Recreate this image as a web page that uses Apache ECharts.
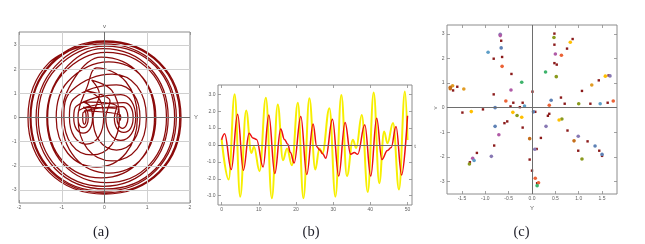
<!DOCTYPE html>
<html><head><meta charset="utf-8">
<script src="https://cdn.jsdelivr.net/npm/echarts@6/dist/echarts.min.js"></script>
<style>html,body{margin:0;padding:0;background:#fff}#c{width:645px;height:244px}</style>
</head><body><div id="c"></div><script>
// ---------- Panel (a): phase portrait (Y, v) ----------
const phaseY = [
 .36,.37,.38,.37,.36,.35,.34,.35,
 -.47,-.44,-.43,-.44,-.47,-.50,-.51,-.50,
 .42,.51,.55,.51,.42,.33,.29,.33,
 -.50,-.41,-.38,-.41,-.50,-.59,-.62,-.59,
 .45,.61,.67,.61,.45,.29,.23,.29,
 -.50,-.34,-.28,-.34,-.50,-.66,-.72,-.66,
 .38,.63,.73,.63,.38,.13,.03,.13,
 -.42,-.13,-.02,-.13,-.42,-.71,-.82,-.71,
 .28,.68,.83,.68,.28,-.12,-.27,-.12,
 -.30,.17,.35,.17,-.30,-.77,-.95,-.77,
 .18,.76,.98,.76,.18,-.40,-.62,-.40,
 -.18,.50,.77,.50,-.18,-.86,-1.13,-.86,
 .10,.89,1.20,.89,.10,-.69,-1.00,-.69,
 -.08,.82,1.17,.82,-.08,-.98,-1.33,-.98,
 .05,1.06,1.45,1.06,.05,-.96,-1.35,-.96,
 -.03,1.06,1.49,1.06,-.03,-1.12,-1.55,-1.12,
 .02,1.19,1.64,1.19,.02,-1.15,-1.60,-1.15,
 -.02,1.20,1.68,1.20,-.02,-1.24,-1.72,-1.24,
 .01,1.27,1.76,1.27,.01,-1.25,-1.74,-1.25,
 0,1.29,1.79,1.29,0,-1.29,-1.79,-1.29,0
];
const phaseV = [
 .13,.09,0,-.09,-.13,-.09,0,.09,
 .28,.20,0,-.20,-.28,-.20,0,.20,
 .45,.32,0,-.32,-.45,-.32,0,.32,
 .42,.30,0,-.30,-.42,-.30,0,.30,
 .62,.45,0,-.45,-.62,-.45,0,.45,
 .65,.47,0,-.47,-.65,-.47,0,.47,
 .95,.68,0,-.68,-.95,-.68,0,.68,
 1.10,.79,0,-.79,-1.10,-.79,0,.79,
 1.35,.97,0,-.97,-1.35,-.97,0,.97,
 1.55,1.12,0,-1.12,-1.55,-1.12,0,1.12,
 1.80,1.30,0,-1.30,-1.80,-1.30,0,1.30,
 2.05,1.48,0,-1.48,-2.05,-1.48,0,1.48,
 2.30,1.66,0,-1.66,-2.30,-1.66,0,1.66,
 2.50,1.80,0,-1.80,-2.50,-1.80,0,1.80,
 2.70,1.94,0,-1.94,-2.70,-1.94,0,1.94,
 2.85,2.05,0,-2.05,-2.85,-2.05,0,2.05,
 2.96,2.13,0,-2.13,-2.96,-2.13,0,2.13,
 3.05,2.20,0,-2.20,-3.05,-2.20,0,2.20,
 3.12,2.25,0,-2.25,-3.12,-2.25,0,2.25,
 3.17,2.28,0,-2.28,-3.17,-2.28,0,2.28,3.17
];
const aTicksX = [-2,-1,0,1,2];
const aTicksY = [-3,-2,-1,0,1,2,3];
const aGridX = [-1,1];
const aGridY = [-3,-2,-1,1,2,3];

// ---------- Panel (b): time series ----------
const redT = [0,0.8,2.6,4.3,5.85,7.4,8.4,9.4,11.15,12.7,14.3,15.9,16.9,17.8,18.5,19.5,21.3,22.9,24.6,25.6,26.4,27.2,28.0,29.8,31.5,33.2,34.7,35.7,36.6,38.5,40.1,41.7,43.1,44.6,45.6,46.9,48.4,50.0];
const redY = [0.31,0.67,-1.45,1.82,-1.5,0.7,0.42,0.33,-1.3,1.78,-1.69,0.94,0.33,0.05,-0.45,-1.06,1.69,-1.75,1.24,-0.1,-0.3,-0.52,-0.78,1.53,-1.84,1.33,-0.55,-0.45,-0.55,1.2,-1.84,1.59,-0.86,-0.33,-0.15,1.1,-1.78,1.73];
const yelT = [0,1.9,3.5,5.0,6.6,8.0,8.7,10.2,11.9,13.5,15.1,16.5,17.6,18.9,20.5,22.0,23.6,25.2,26.3,27.1,29.0,30.6,32.2,33.7,35.3,36.2,37.7,39.3,40.9,42.4,43.7,44.6,46.1,47.7,49.3,50.0];
const yelV = [0.35,-2.04,3.0,-3.06,2.04,-0.47,-0.1,-1.55,2.8,-3.15,2.4,-0.9,-0.2,-1.2,2.5,-3.15,2.76,-1.45,-0.2,-0.5,2.18,-3.06,2.96,-1.84,0.31,-0.18,1.78,-2.78,3.1,-2.27,0.8,0.1,1.3,-2.63,3.16,0.3];
const bTicksX = [0,10,20,30,40,50];
const bTicksY = [-3,-2,-1,0,1,2,3];

// ---------- Panel (c): scatter of sampled states ----------
const cDarkRed = [[-0.66,2.72],[-0.82,1.99],[-0.64,2.06],[-0.44,1.37],[-0.82,0.54],[-0.4,0.2],[-0.2,0.2],[0.01,0.65],[-0.46,0.05],[-0.26,0.02],[-1.6,0.85],[-1.69,0.7],[-1.49,-0.2],[-1.05,-0.07],[-0.53,-0.56],[-0.59,-0.63],[-0.2,-0.81],[-0.81,-1.54],[-1.18,-1.84],[-1.33,-2.22],[-0.05,-2.11],[0.0,-2.56],[0.11,-3.07],[0.1,-1.68],[0.07,-0.17],[0.34,-0.33],[0.37,-0.25],[0.19,-1.23],[0.76,-0.93],[0.99,-1.75],[1.19,-1.37],[1.44,-1.75],[1.5,-1.96],[0.48,3.01],[0.48,2.56],[0.48,1.81],[0.53,1.75],[0.87,2.79],[0.75,2.4],[1.07,0.68],[1.43,1.11],[1.64,1.31],[0.62,0.41],[0.7,0.16],[1.25,0.16],[1.62,0.2]];
const cPurple = [[-0.68,2.98],[0.3,-0.76],[0.99,-1.16],[-0.87,-1.98],[0.06,-1.69],[1.67,1.29]];
const cPink = [[-0.68,2.93],[-0.45,0.72],[0.5,2.18],[-1.27,-2.06],[-0.71,-1.1]];
const cBlue = [[-0.66,2.43],[0.41,0.3],[1.35,-1.56],[1.5,-1.9],[-0.79,0.0],[0.03,-0.17],[-0.79,-0.76]];
const cLightBlue = [[-0.94,2.25],[-0.16,0.07],[1.46,0.16],[-1.24,-2.15]];
const cRedOrange = [[-0.64,1.68],[-0.56,0.27],[0.63,2.13],[0.37,0.1],[1.74,0.27],[0.07,-2.87],[0.14,-3.05]];
const cGreen = [[-0.22,1.03],[0.29,1.45],[0.11,-3.17]];
const cOlive = [[0.47,2.85],[0.52,1.26],[1.0,0.16],[-0.32,-0.32],[0.64,-0.46],[1.07,-2.09],[-1.34,-2.29]];
const cYellow = [[0.82,2.66],[1.57,1.28],[-1.3,-0.16],[-0.41,-0.19],[-0.22,-0.39],[0.58,-0.5]];
const cOrange = [[1.28,0.92],[-1.7,0.89],[-1.46,0.76]];
const cBrown = [[-1.75,0.83],[-1.75,0.77],[-0.05,-1.26],[0.9,-1.35]];
const cTicksX = [-1.5,-1,-0.5,0,0.5,1,1.5];
const cTicksY = [-3,-2,-1,0,1,2,3];

// ---------- chart ----------
const chart = echarts.init(document.getElementById('c'), null, {renderer:'canvas', width:645, height:244});
const FRAME = '#8c8c8c', TICK = '#8c8c8c', LAB = '#606060', FONT = 'Liberation Sans';

function xAxes(gi, min, max, ticks, fmt) {
  return [
    {gridIndex:gi, type:'value', min, max, position:'bottom',
     axisLine:{show:false, onZero:false}, splitLine:{show:false},
     axisTick:{show:true, inside:true, length:3, lineStyle:{color:TICK, width:0.8}, customValues:ticks},
     axisLabel:{show:true, customValues:ticks, fontSize:5, color:LAB, fontFamily:FONT, margin:2, formatter:fmt}},
    {gridIndex:gi, type:'value', min, max, position:'top',
     axisLine:{show:false, onZero:false}, splitLine:{show:false},
     axisTick:{show:true, inside:true, length:3, lineStyle:{color:TICK, width:0.8}, customValues:ticks},
     axisLabel:{show:false}}
  ];
}
function yAxes(gi, min, max, ticks, fmt) {
  return [
    {gridIndex:gi, type:'value', min, max, position:'left',
     axisLine:{show:false, onZero:false}, splitLine:{show:false},
     axisTick:{show:true, inside:true, length:3, lineStyle:{color:TICK, width:0.8}, customValues:ticks},
     axisLabel:{show:true, customValues:ticks, fontSize:5, color:LAB, fontFamily:FONT, margin:2.5, formatter:fmt}},
    {gridIndex:gi, type:'value', min, max, position:'right',
     axisLine:{show:false, onZero:false}, splitLine:{show:false},
     axisTick:{show:true, inside:true, length:3, lineStyle:{color:TICK, width:0.8}, customValues:ticks},
     axisLabel:{show:false}}
  ];
}
const intFmt = v => String(Math.round(v));
const realFmt = v => v.toFixed(1);

function guideSeries(gi, lines) {
  return {type:'line', xAxisIndex:2*gi, yAxisIndex:2*gi, data:[], z:1, silent:true,
    markLine:{silent:true, symbol:['none','none'], label:{show:false}, animation:false,
      data: lines}};
}
const axisStyle = {color:'#6e6e6e', width:1, type:'solid'};
const gridStyle = {color:'#d0d0d0', width:1, type:'solid'};

const phasePts = phaseY.map((y,i)=>[y, phaseV[i]]);
const redPts = redT.map((t,i)=>[t, redY[i]]);
const yelPts = yelT.map((t,i)=>[t, yelV[i]]);

function scat(data, color, size, symbol) {
  return {type:'scatter', xAxisIndex:4, yAxisIndex:4, data, symbol:symbol||'circle', symbolSize:size,
    itemStyle:{color, opacity:1}, z:4, silent:true};
}

const gridBase = {show:true, borderColor:FRAME, borderWidth:1, backgroundColor:'transparent', containLabel:false, outerBoundsMode:'none'};

const option = {
  backgroundColor:'#ffffff',
  animation:false,
  grid:[
    Object.assign({left:19, top:32, width:171, height:171}, gridBase),
    Object.assign({left:218, top:85, width:194, height:120}, gridBase),
    Object.assign({left:447, top:25, width:170, height:169}, gridBase)
  ],
  xAxis:[
    ...xAxes(0, -2, 2, aTicksX, intFmt),
    ...xAxes(1, -0.97, 51.2, bTicksX, intFmt),
    ...xAxes(2, -1.82, 1.82, cTicksX, realFmt)
  ],
  yAxis:[
    ...yAxes(0, -3.54, 3.54, aTicksY, intFmt),
    ...yAxes(1, -3.55, 3.55, bTicksY, realFmt),
    ...yAxes(2, -3.51, 3.36, cTicksY, intFmt)
  ],
  series:[
    guideSeries(0, [
      ...aGridX.map(x=>({xAxis:x, lineStyle:gridStyle})),
      ...aGridY.map(y=>({yAxis:y, lineStyle:gridStyle})),
      {xAxis:0, lineStyle:axisStyle}, {yAxis:0, lineStyle:axisStyle}
    ]),
    {type:'line', xAxisIndex:0, yAxisIndex:0, data:phasePts, showSymbol:false, smooth:0.39, z:3,
     lineStyle:{color:'#8b0a0a', width:1.25}, silent:true},
    guideSeries(1, [{yAxis:0, lineStyle:axisStyle}]),
    {type:'line', xAxisIndex:2, yAxisIndex:2, data:yelPts, showSymbol:false, smooth:0.4, smoothMonotone:'x', z:3,
     lineStyle:{color:'#f7ef00', width:2}, silent:true},
    {type:'line', xAxisIndex:2, yAxisIndex:2, data:redPts, showSymbol:false, smooth:0.4, smoothMonotone:'x', z:4,
     lineStyle:{color:'#ee1010', width:1.5}, silent:true},
    guideSeries(2, [{xAxis:0, lineStyle:axisStyle}, {yAxis:0, lineStyle:axisStyle}]),
    scat(cDarkRed, '#8b1a1a', 2.4, 'rect'),
    scat(cPurple, '#8778B3', 3.6),
    scat(cPink, '#B05AA6', 3.6),
    scat(cBlue, '#5E81B5', 3.6),
    scat(cLightBlue, '#5D9EC7', 3.6),
    scat(cRedOrange, '#EB6235', 3.6),
    scat(cGreen, '#3DB36B', 3.6),
    scat(cOlive, '#8A9A1E', 3.6),
    scat(cYellow, '#FFBF00', 3.6),
    scat(cOrange, '#E19C24', 3.6),
    scat(cBrown, '#C56E1A', 3.6)
  ],
  graphic:[
    {type:'text', x:104.5, y:26, style:{text:'v', fontSize:6, fill:LAB, fontFamily:FONT, align:'center', verticalAlign:'middle'}},
    {type:'text', x:196, y:117.5, style:{text:'Y', fontSize:6, fill:LAB, fontFamily:FONT, align:'center', verticalAlign:'middle'}},
    {type:'text', x:415, y:146, style:{text:'t', fontSize:6, fill:LAB, fontFamily:FONT, align:'center', verticalAlign:'middle'}},
    {type:'text', x:435, y:108, rotation:Math.PI/2, style:{text:'v', fontSize:6, fill:LAB, fontFamily:FONT, align:'center', verticalAlign:'middle'}},
    {type:'text', x:532, y:208, style:{text:'Y', fontSize:6, fill:LAB, fontFamily:FONT, align:'center', verticalAlign:'middle'}},
    {type:'text', x:101, y:232, style:{text:'(a)', fontSize:14.5, fill:'#1e1e28', fontFamily:'Liberation Serif', align:'center', verticalAlign:'middle'}},
    {type:'text', x:311, y:232, style:{text:'(b)', fontSize:14.5, fill:'#1e1e28', fontFamily:'Liberation Serif', align:'center', verticalAlign:'middle'}},
    {type:'text', x:521.5, y:232, style:{text:'(c)', fontSize:14.5, fill:'#1e1e28', fontFamily:'Liberation Serif', align:'center', verticalAlign:'middle'}}
  ]
};
chart.setOption(option);
</script></body></html>
